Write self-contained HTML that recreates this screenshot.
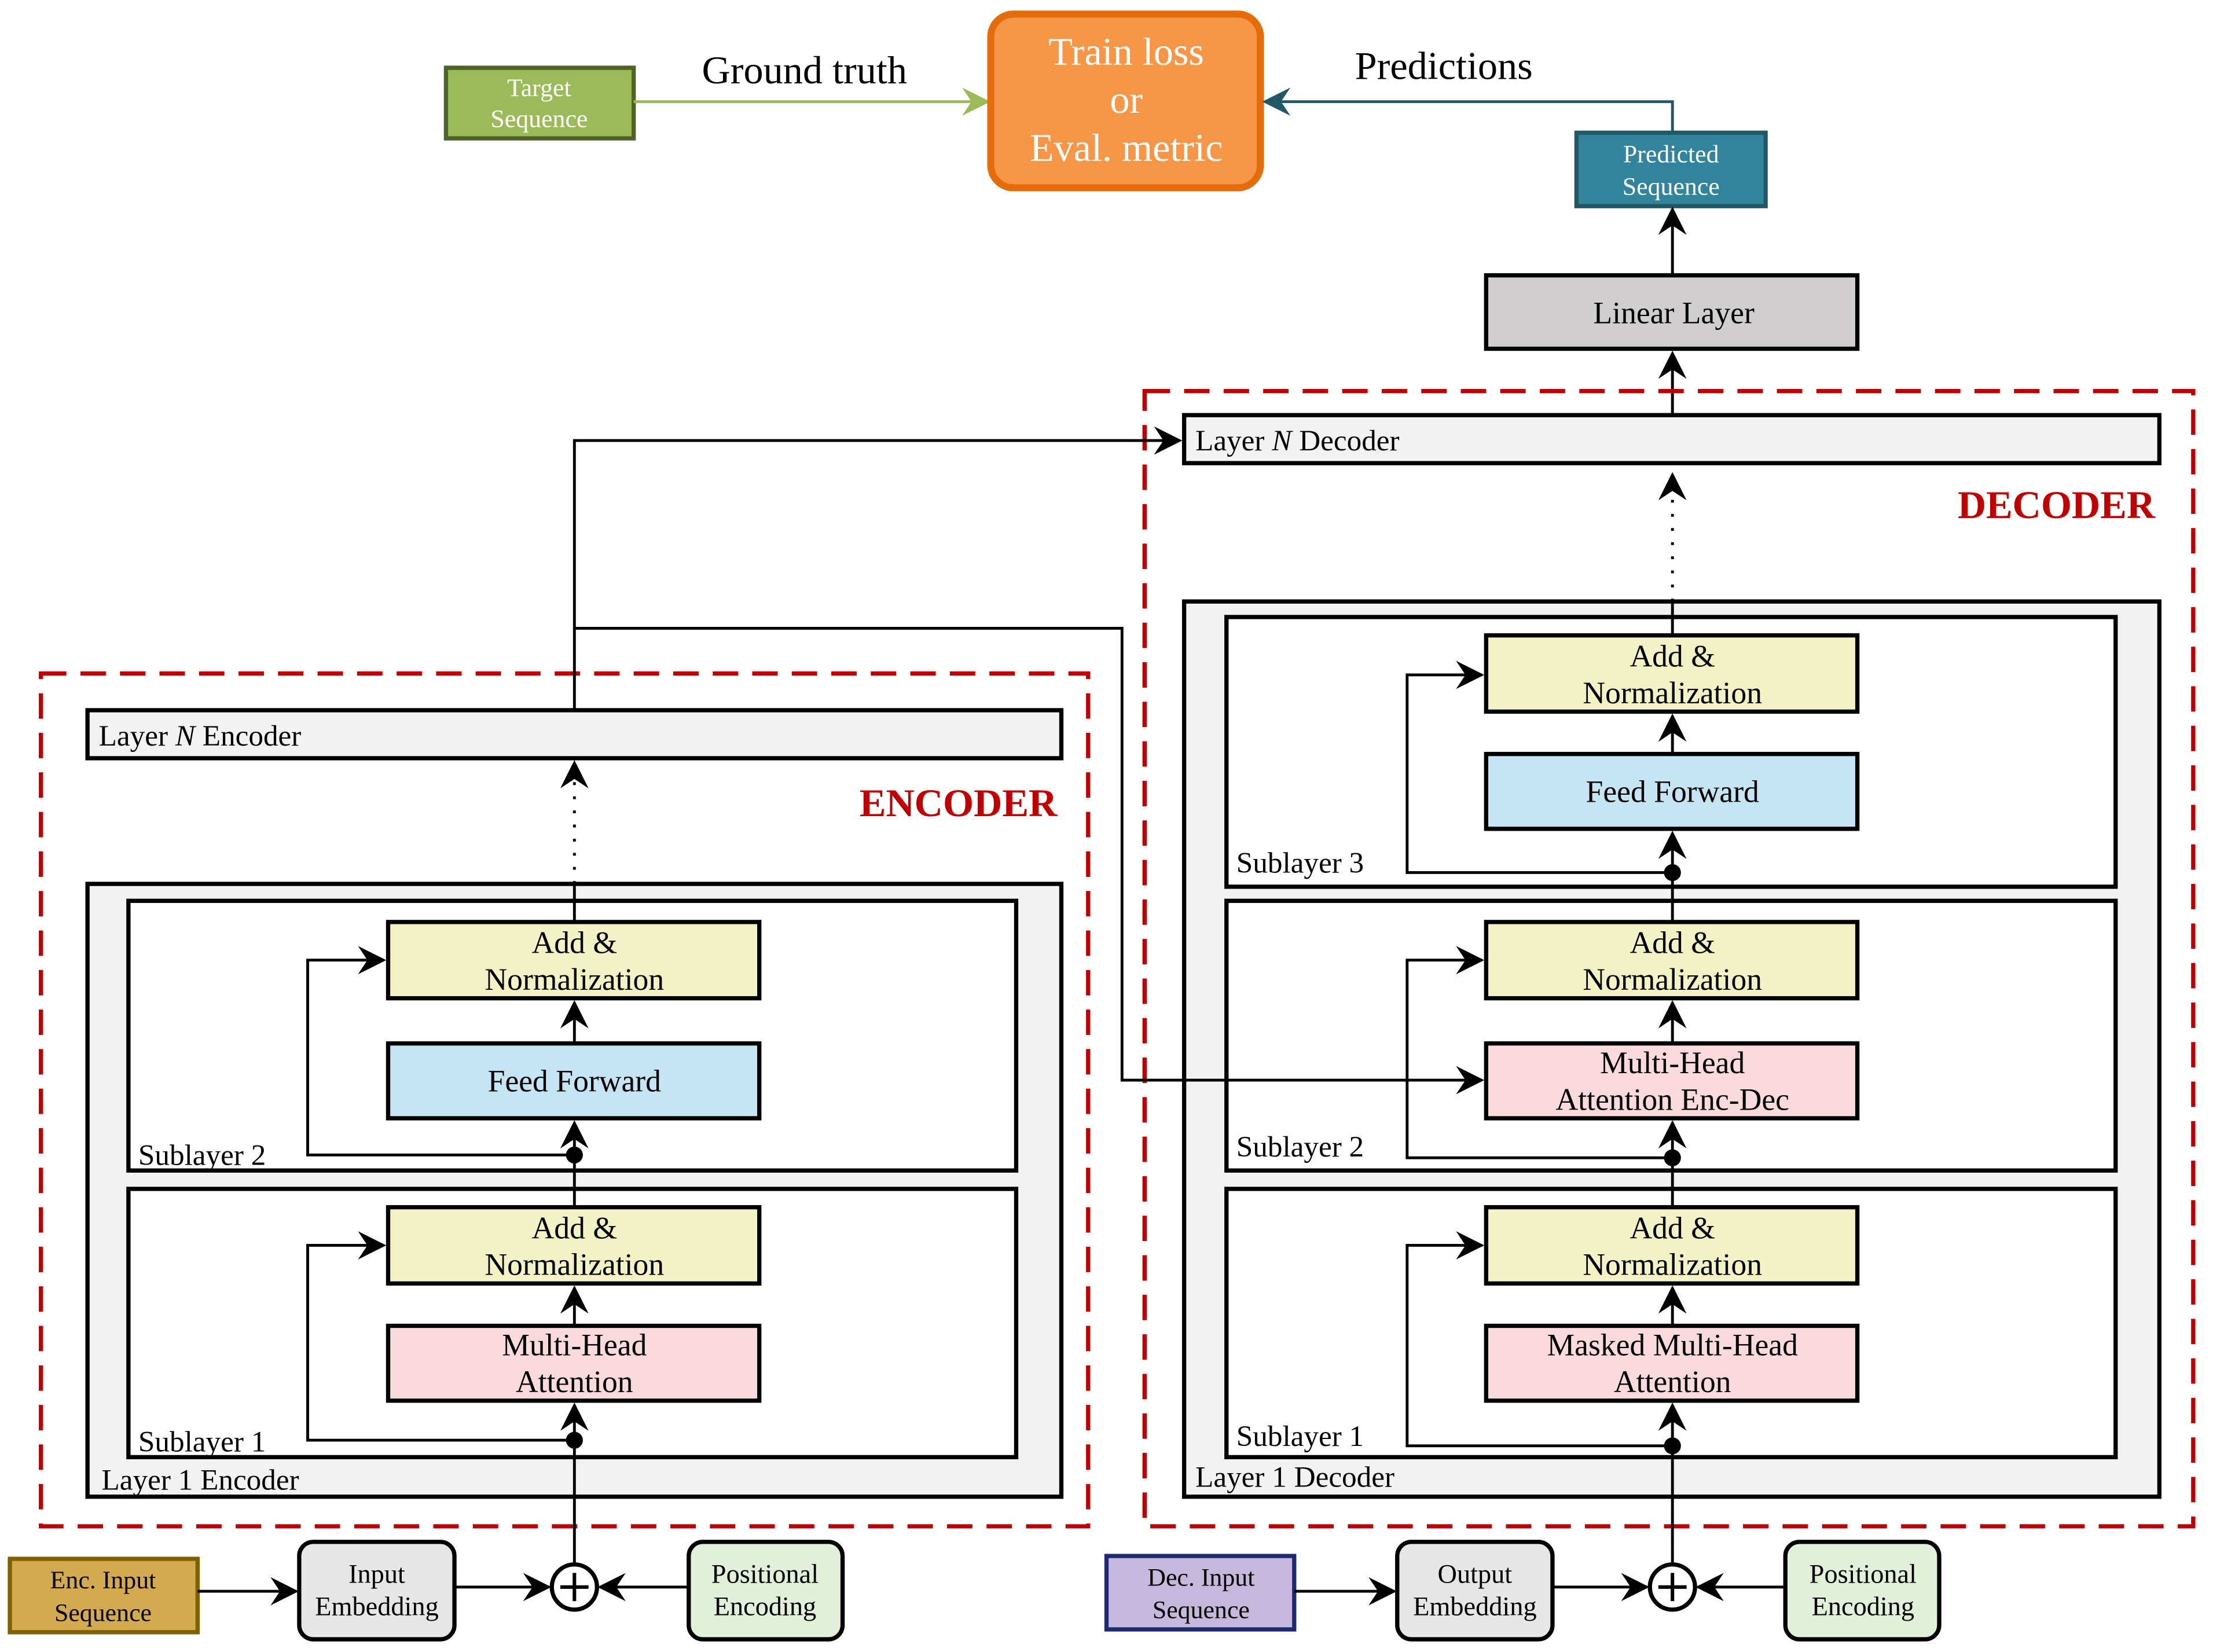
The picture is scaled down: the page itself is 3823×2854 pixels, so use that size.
<!DOCTYPE html>
<html><head><meta charset="utf-8">
<style>
html,body{margin:0;padding:0;background:#fff;}
svg{display:block;}
text{font-family:"Liberation Serif",serif;}
</style></head>
<body>
<svg width="3823" height="2854" viewBox="0 0 1568 1170" preserveAspectRatio="none" xmlns="http://www.w3.org/2000/svg">
<defs>
<marker id="a" viewBox="0 0 12 12" refX="11" refY="6" markerWidth="7" markerHeight="7" orient="auto" markerUnits="userSpaceOnUse">
<path d="M0,0 L12,6 L0,12 L4,6 z" fill="#000"/></marker>
<marker id="ab" viewBox="0 0 12 12" refX="11" refY="6" markerWidth="20" markerHeight="20" orient="auto" markerUnits="userSpaceOnUse">
<path d="M0,0 L12,6 L0,12 L4,6 z" fill="#000"/></marker>
<marker id="ag" viewBox="0 0 12 12" refX="11" refY="6" markerWidth="20" markerHeight="20" orient="auto" markerUnits="userSpaceOnUse">
<path d="M0,0 L12,6 L0,12 L4,6 z" fill="#9bbb59"/></marker>
<marker id="at" viewBox="0 0 12 12" refX="11" refY="6" markerWidth="20" markerHeight="20" orient="auto" markerUnits="userSpaceOnUse">
<path d="M0,0 L12,6 L0,12 L4,6 z" fill="#215868"/></marker>
</defs>
<rect width="1568" height="1170" fill="#fff"/>

<!-- top -->
<rect x="316" y="48" width="133" height="50" fill="#9bbb59" stroke="#4f6228" stroke-width="3"/>
<text x="382" y="68" font-size="18" fill="#fff" text-anchor="middle">Target</text>
<text x="382" y="90" font-size="18" fill="#fff" text-anchor="middle">Sequence</text>
<text x="570" y="59" font-size="28" text-anchor="middle">Ground truth</text>
<line x1="449" y1="72" x2="700" y2="72" stroke="#9bbb59" stroke-width="2" marker-end="url(#ag)"/>
<rect x="702" y="10" width="191" height="123" rx="16" fill="#f79646" stroke="#e46c0a" stroke-width="5"/>
<text x="798" y="46" font-size="28" fill="#fff" text-anchor="middle">Train loss</text>
<text x="798" y="80" font-size="28" fill="#fff" text-anchor="middle">or</text>
<text x="798" y="114" font-size="28" fill="#fff" text-anchor="middle">Eval. metric</text>
<text x="1023" y="56" font-size="28" text-anchor="middle">Predictions</text>
<polyline points="1185,94 1185,72 896,72" fill="none" stroke="#215868" stroke-width="2" marker-end="url(#at)"/>
<rect x="1117" y="94" width="134" height="52" fill="#31849b" stroke="#215868" stroke-width="3"/>
<text x="1184" y="115" font-size="18" fill="#fff" text-anchor="middle">Predicted</text>
<text x="1184" y="138" font-size="18" fill="#fff" text-anchor="middle">Sequence</text>
<line x1="1185" y1="194" x2="1185" y2="148" stroke="#000" stroke-width="2" marker-end="url(#ab)"/>
<rect x="1053" y="195" width="263" height="52" fill="#d0cece" stroke="#000" stroke-width="3"/>
<text x="1186" y="229" font-size="22" text-anchor="middle">Linear Layer</text>
<line x1="1185" y1="293" x2="1185" y2="250" stroke="#000" stroke-width="2" marker-end="url(#ab)"/>

<!-- decoder -->
<rect x="811" y="277" width="743" height="804" fill="none" stroke="#c00000" stroke-width="3" stroke-dasharray="18,10"/>
<rect x="839" y="294" width="691" height="34" fill="#f2f2f2" stroke="#000" stroke-width="3"/>
<text x="847" y="319" font-size="21">Layer <tspan font-style="italic">N</tspan> Decoder</text>
<text x="1527" y="367" font-size="28" font-weight="bold" fill="#c00000" text-anchor="end">DECODER</text>
<line x1="1185" y1="426" x2="1185" y2="336" stroke="#000" stroke-width="2" stroke-dasharray="2,8" marker-end="url(#ab)"/>
<rect x="839" y="426" width="691" height="634" fill="#f2f2f2" stroke="#000" stroke-width="3"/>
<text x="847" y="1053" font-size="21">Layer 1 Decoder</text>

<rect x="869" y="437" width="630" height="191" fill="#fff" stroke="#000" stroke-width="3"/>
<text x="876" y="618" font-size="21">Sublayer 3</text>
<rect x="869" y="638" width="630" height="191" fill="#fff" stroke="#000" stroke-width="3"/>
<text x="876" y="819" font-size="21">Sublayer 2</text>
<rect x="869" y="842" width="630" height="190" fill="#fff" stroke="#000" stroke-width="3"/>
<text x="876" y="1024" font-size="21">Sublayer 1</text>

<rect x="1053" y="450" width="263" height="54" fill="#f2f2c4" stroke="#000" stroke-width="3"/>
<text x="1185" y="472" font-size="22" text-anchor="middle">Add &amp;</text>
<text x="1185" y="498" font-size="22" text-anchor="middle">Normalization</text>
<rect x="1053" y="534" width="263" height="53" fill="#c5e5f4" stroke="#000" stroke-width="3"/>
<text x="1185" y="568" font-size="22" text-anchor="middle">Feed Forward</text>
<rect x="1053" y="653" width="263" height="54" fill="#f2f2c4" stroke="#000" stroke-width="3"/>
<text x="1185" y="675" font-size="22" text-anchor="middle">Add &amp;</text>
<text x="1185" y="701" font-size="22" text-anchor="middle">Normalization</text>
<rect x="1053" y="739" width="263" height="53" fill="#fadadd" stroke="#000" stroke-width="3"/>
<text x="1185" y="760" font-size="22" text-anchor="middle">Multi-Head</text>
<text x="1185" y="786" font-size="22" text-anchor="middle">Attention Enc-Dec</text>
<rect x="1053" y="855" width="263" height="54" fill="#f2f2c4" stroke="#000" stroke-width="3"/>
<text x="1185" y="877" font-size="22" text-anchor="middle">Add &amp;</text>
<text x="1185" y="903" font-size="22" text-anchor="middle">Normalization</text>
<rect x="1053" y="939" width="263" height="53" fill="#fadadd" stroke="#000" stroke-width="3"/>
<text x="1185" y="960" font-size="22" text-anchor="middle">Masked Multi-Head</text>
<text x="1185" y="986" font-size="22" text-anchor="middle">Attention</text>

<g stroke="#000" stroke-width="2" fill="none">
<line x1="1185" y1="1108" x2="1185" y2="995" marker-end="url(#ab)"/>
<line x1="1185" y1="939" x2="1185" y2="912" marker-end="url(#ab)"/>
<line x1="1185" y1="855" x2="1185" y2="795" marker-end="url(#ab)"/>
<line x1="1185" y1="739" x2="1185" y2="710" marker-end="url(#ab)"/>
<line x1="1185" y1="653" x2="1185" y2="590" marker-end="url(#ab)"/>
<line x1="1185" y1="534" x2="1185" y2="507" marker-end="url(#ab)"/>
<line x1="1185" y1="450" x2="1185" y2="426"/>
<polyline points="1185,1024 997,1024 997,882 1050,882" marker-end="url(#ab)"/>
<polyline points="1185,820 997,820 997,680 1050,680" marker-end="url(#ab)"/>
<polyline points="1185,618 997,618 997,478 1050,478" marker-end="url(#ab)"/>
</g>
<circle cx="1185" cy="1024" r="6"/><circle cx="1185" cy="820" r="6"/><circle cx="1185" cy="618" r="6"/>

<!-- encoder -->
<rect x="29" y="477" width="742" height="604" fill="none" stroke="#c00000" stroke-width="3" stroke-dasharray="18,10"/>
<rect x="62" y="503" width="690" height="34" fill="#f2f2f2" stroke="#000" stroke-width="3"/>
<text x="70" y="528" font-size="21">Layer <tspan font-style="italic">N</tspan> Encoder</text>
<text x="749" y="578" font-size="28" font-weight="bold" fill="#c00000" text-anchor="end">ENCODER</text>
<rect x="62" y="626" width="690" height="434" fill="#f2f2f2" stroke="#000" stroke-width="3"/>
<text x="72" y="1055" font-size="21">Layer 1 Encoder</text>
<rect x="91" y="638" width="629" height="191" fill="#fff" stroke="#000" stroke-width="3"/>
<text x="98" y="825" font-size="21">Sublayer 2</text>
<rect x="91" y="842" width="629" height="190" fill="#fff" stroke="#000" stroke-width="3"/>
<text x="98" y="1028" font-size="21">Sublayer 1</text>

<rect x="275" y="653" width="263" height="54" fill="#f2f2c4" stroke="#000" stroke-width="3"/>
<text x="407" y="675" font-size="22" text-anchor="middle">Add &amp;</text>
<text x="407" y="701" font-size="22" text-anchor="middle">Normalization</text>
<rect x="275" y="739" width="263" height="53" fill="#c5e5f4" stroke="#000" stroke-width="3"/>
<text x="407" y="773" font-size="22" text-anchor="middle">Feed Forward</text>
<rect x="275" y="855" width="263" height="54" fill="#f2f2c4" stroke="#000" stroke-width="3"/>
<text x="407" y="877" font-size="22" text-anchor="middle">Add &amp;</text>
<text x="407" y="903" font-size="22" text-anchor="middle">Normalization</text>
<rect x="275" y="939" width="263" height="53" fill="#fadadd" stroke="#000" stroke-width="3"/>
<text x="407" y="960" font-size="22" text-anchor="middle">Multi-Head</text>
<text x="407" y="986" font-size="22" text-anchor="middle">Attention</text>

<g stroke="#000" stroke-width="2" fill="none">
<line x1="407" y1="1108" x2="407" y2="995" marker-end="url(#ab)"/>
<line x1="407" y1="939" x2="407" y2="912" marker-end="url(#ab)"/>
<line x1="407" y1="855" x2="407" y2="795" marker-end="url(#ab)"/>
<line x1="407" y1="739" x2="407" y2="710" marker-end="url(#ab)"/>
<line x1="407" y1="653" x2="407" y2="626"/>
<line x1="407" y1="626" x2="407" y2="540" stroke-dasharray="2,8" marker-end="url(#ab)"/>
<polyline points="407,1020 218,1020 218,882 272,882" marker-end="url(#ab)"/>
<polyline points="407,818 218,818 218,680 272,680" marker-end="url(#ab)"/>
<polyline points="407,503 407,312 836,312" marker-end="url(#ab)"/>
<polyline points="407,445 795,445 795,765 1050,765" marker-end="url(#ab)"/>
</g>
<circle cx="407" cy="1020" r="6"/><circle cx="407" cy="818" r="6"/>

<!-- bottom encoder -->
<rect x="7" y="1104" width="133" height="52" fill="#d4aa50" stroke="#7f6000" stroke-width="3"/>
<text x="73" y="1125" font-size="18" text-anchor="middle">Enc. Input</text>
<text x="73" y="1148" font-size="18" text-anchor="middle">Sequence</text>
<rect x="212" y="1092" width="110" height="69" rx="10" fill="#e6e6e6" stroke="#000" stroke-width="3"/>
<text x="267" y="1121" font-size="19" text-anchor="middle">Input</text>
<text x="267" y="1144" font-size="19" text-anchor="middle">Embedding</text>
<circle cx="407" cy="1124" r="16" fill="#fff" stroke="#000" stroke-width="3"/>
<line x1="397" y1="1124" x2="417" y2="1124" stroke="#000" stroke-width="2.5"/>
<line x1="407" y1="1114" x2="407" y2="1134" stroke="#000" stroke-width="2.5"/>
<rect x="488" y="1092" width="109" height="69" rx="10" fill="#e2efd9" stroke="#000" stroke-width="3"/>
<text x="542" y="1121" font-size="19" text-anchor="middle">Positional</text>
<text x="542" y="1144" font-size="19" text-anchor="middle">Encoding</text>
<g stroke="#000" stroke-width="2">
<line x1="140" y1="1127" x2="210" y2="1127" marker-end="url(#ab)"/>
<line x1="322" y1="1124" x2="389" y2="1124" marker-end="url(#ab)"/>
<line x1="488" y1="1124" x2="425" y2="1124" marker-end="url(#ab)"/>
</g>

<!-- bottom decoder -->
<rect x="784" y="1102" width="133" height="52" fill="#c5b8dc" stroke="#1f2a6e" stroke-width="3"/>
<text x="851" y="1123" font-size="18" text-anchor="middle">Dec. Input</text>
<text x="851" y="1146" font-size="18" text-anchor="middle">Sequence</text>
<rect x="990" y="1092" width="110" height="69" rx="10" fill="#e6e6e6" stroke="#000" stroke-width="3"/>
<text x="1045" y="1121" font-size="19" text-anchor="middle">Output</text>
<text x="1045" y="1144" font-size="19" text-anchor="middle">Embedding</text>
<circle cx="1185" cy="1124" r="16" fill="#fff" stroke="#000" stroke-width="3"/>
<line x1="1175" y1="1124" x2="1195" y2="1124" stroke="#000" stroke-width="2.5"/>
<line x1="1185" y1="1114" x2="1185" y2="1134" stroke="#000" stroke-width="2.5"/>
<rect x="1265" y="1092" width="109" height="69" rx="10" fill="#e2efd9" stroke="#000" stroke-width="3"/>
<text x="1320" y="1121" font-size="19" text-anchor="middle">Positional</text>
<text x="1320" y="1144" font-size="19" text-anchor="middle">Encoding</text>
<g stroke="#000" stroke-width="2">
<line x1="917" y1="1127" x2="988" y2="1127" marker-end="url(#ab)"/>
<line x1="1100" y1="1124" x2="1167" y2="1124" marker-end="url(#ab)"/>
<line x1="1265" y1="1124" x2="1203" y2="1124" marker-end="url(#ab)"/>
</g>
</svg>
</body></html>
